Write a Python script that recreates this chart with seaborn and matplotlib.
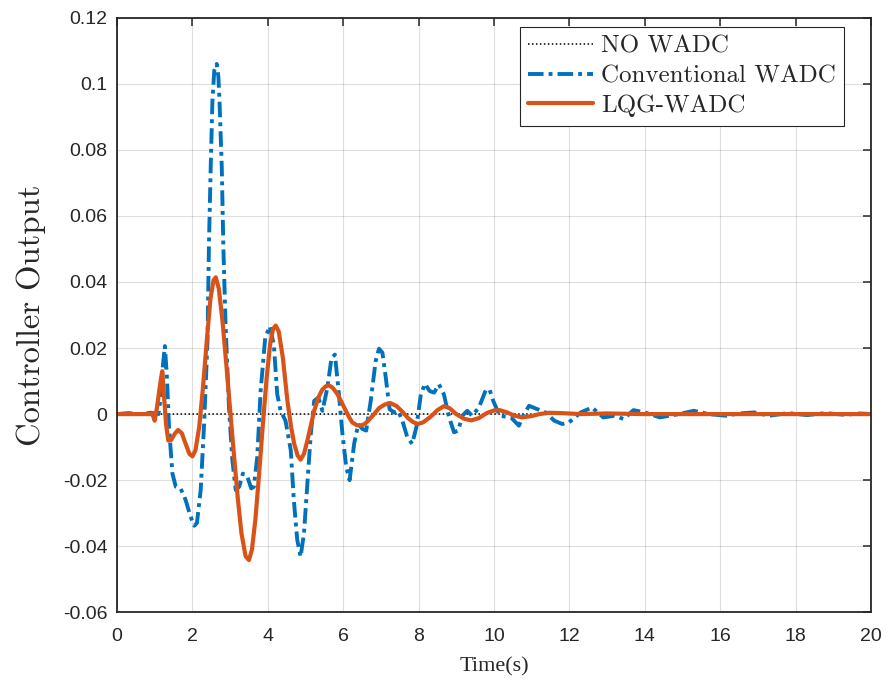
import matplotlib
matplotlib.use("Agg")
import matplotlib.pyplot as plt
import seaborn as sns
import numpy as np

# ---------------- data ----------------
t_none = [0.0, 20.0]
v_none = [0.0, 0.0]

t_conv = [0.0, 0.3, 0.6, 0.9, 1.1, 1.17, 1.22, 1.27, 1.32, 1.38, 1.47, 1.56, 1.69,
          1.82, 1.95, 2.05, 2.12, 2.22, 2.31, 2.40, 2.44, 2.485, 2.53, 2.58, 2.645,
          2.69, 2.72, 2.78, 2.82, 2.88, 2.97, 3.06, 3.15, 3.24, 3.34, 3.46, 3.56,
          3.63, 3.72, 3.81, 3.93, 4.05, 4.16, 4.25, 4.34, 4.47, 4.61, 4.69, 4.78,
          4.87, 4.96, 5.05, 5.14, 5.23, 5.34, 5.45, 5.58, 5.69, 5.78, 5.87, 5.98,
          6.08, 6.17, 6.29, 6.40, 6.51, 6.61, 6.73, 6.86, 6.95, 7.04, 7.13, 7.23,
          7.35, 7.46, 7.57, 7.70, 7.83, 7.94, 8.06, 8.17, 8.29, 8.41, 8.54, 8.67,
          8.81, 8.94, 9.05, 9.16, 9.29, 9.42, 9.60, 9.78, 9.88, 9.98, 10.15, 10.45,
          10.66, 10.8, 10.93, 11.15, 11.37, 11.6, 11.81, 11.99, 12.3, 12.6, 12.9,
          13.2, 13.44, 13.7, 14.0, 14.4, 14.9, 15.3, 15.7, 16.15, 16.5, 16.9, 17.3,
          17.8, 18.3, 18.8, 19.3, 19.7, 20.0]
v_conv = [0.0, 0.0003, 0.0, 0.0004, 0.0, 0.006, 0.015, 0.0206, 0.012, -0.004, -0.018,
          -0.022, -0.0226, -0.026, -0.031, -0.0338, -0.033, -0.023, -0.003, 0.022,
          0.052, 0.0744, 0.0945, 0.104, 0.106, 0.102, 0.0945, 0.0744, 0.051, 0.027,
          0.002, -0.014, -0.023, -0.022, -0.018, -0.019, -0.0225, -0.022, -0.013,
          0.007, 0.023, 0.0266, 0.021, 0.006, 0.001, -0.002, -0.011, -0.026, -0.038,
          -0.0432, -0.036, -0.021, -0.006, 0.004, 0.005, 0.001, 0.008, 0.017, 0.018,
          0.008, -0.006, -0.016, -0.020, -0.009, -0.003, -0.0045, -0.005, 0.004,
          0.016, 0.0198, 0.0186, 0.011, 0.0015, 0.0005, 0.001, -0.002, -0.007,
          -0.009, -0.004, 0.006, 0.0092, 0.007, 0.0065, 0.009, 0.006, -0.001,
          -0.0055, -0.005, -0.0005, 0.001, -0.0005, 0.002, 0.0072, 0.0075, 0.004,
          -0.0005, -0.001, -0.0035, 0.0, 0.0025, 0.0015, 0.0005, -0.002, -0.003,
          -0.0025, 0.0005, 0.002, -0.001, -0.0005, -0.0015, 0.0012, 0.0005, -0.001,
          0.0, 0.001, 0.0, -0.0005, 0.0002, 0.0005, -0.0005, 0.0003, -0.0003, 0.0003,
          -0.0002, 0.0002, 0.0]

t_lqg = [0.0, 0.94, 1.0, 1.06, 1.12, 1.17, 1.20, 1.25, 1.30, 1.36, 1.44, 1.53, 1.62,
         1.72, 1.82, 1.92, 2.0, 2.08, 2.18, 2.28, 2.38, 2.48, 2.56, 2.62, 2.70, 2.80,
         2.90, 3.01, 3.10, 3.20, 3.30, 3.41, 3.50, 3.58, 3.67, 3.77, 3.87, 3.97, 4.06,
         4.14, 4.21, 4.29, 4.40, 4.52, 4.62, 4.70, 4.79, 4.87, 4.96, 5.05, 5.14, 5.23,
         5.34, 5.45, 5.55, 5.62, 5.72, 5.85, 5.96, 6.07, 6.16, 6.24, 6.35, 6.46, 6.57,
         6.68, 6.82, 6.95, 7.1, 7.26, 7.42, 7.57, 7.72, 7.85, 7.98, 8.12, 8.32, 8.50,
         8.67, 8.82, 9.0, 9.2, 9.40, 9.6, 9.82, 10.0, 10.15, 10.35, 10.55, 10.75, 11.0,
         11.2, 11.46, 11.8, 12.3, 13.0, 14.0, 20.0]
v_lqg = [0.0, 0.0, -0.002, 0.002, 0.007, 0.011, 0.013, 0.005, -0.003, -0.008, -0.0078,
         -0.006, -0.0048, -0.0058, -0.009, -0.012, -0.0128, -0.011, -0.004, 0.008,
         0.022, 0.035, 0.0405, 0.0414, 0.038, 0.028, 0.015, 0.0, -0.012, -0.025,
         -0.036, -0.043, -0.0442, -0.041, -0.032, -0.018, -0.003, 0.011, 0.021,
         0.0258, 0.0268, 0.025, 0.017, 0.004, -0.004, -0.009, -0.0125, -0.0138,
         -0.012, -0.008, -0.0035, 0.001, 0.005, 0.0075, 0.0085, 0.0087, 0.008, 0.006,
         0.0035, 0.001, -0.001, -0.0025, -0.0033, -0.0035, -0.003, -0.0018, 0.0,
         0.0018, 0.0029, 0.0033, 0.0024, 0.0007, -0.0012, -0.0024, -0.003, -0.0025,
         -0.0008, 0.0012, 0.0024, 0.0018, 0.0, -0.0014, -0.0019, -0.0012, 0.0004,
         0.0011, 0.0012, 0.0005, -0.0005, -0.001, -0.0006, 0.0, 0.0004, 0.0003, 0.0,
         0.0002, 0.0, 0.0]

series_labels = ["NO WADC", "Conventional WADC", "LQG-WADC"]
xticks = [0, 2, 4, 6, 8, 10, 12, 14, 16, 18, 20]
yticks = [-0.06, -0.04, -0.02, 0, 0.02, 0.04, 0.06, 0.08, 0.1, 0.12]
ytick_labels = ["-0.06", "-0.04", "-0.02", "0", "0.02", "0.04", "0.06", "0.08", "0.1", "0.12"]

# ---------------- plotting ----------------
sns.set_style("white")
plt.rcParams["font.family"] = ["Liberation Sans", "DejaVu Sans"]

fig = plt.figure(figsize=(8.88, 6.85), dpi=100)
ax = fig.add_axes([117 / 888, 1 - 612.3 / 685, (871 - 117) / 888, (612.3 - 17.7) / 685])

sns.lineplot(x=t_none, y=v_none, ax=ax, color="black", linewidth=1.1,
             linestyle=(0, (1, 1.6)), label=series_labels[0], sort=False, estimator=None)
sns.lineplot(x=t_conv, y=v_conv, ax=ax, color="#0072BD", linewidth=2.8,
             linestyle=(0, (4.0, 1.3, 1.0, 1.3)), label=series_labels[1], sort=False,
             estimator=None)
sns.lineplot(x=t_lqg, y=v_lqg, ax=ax, color="#D95319", linewidth=3.0,
             linestyle="-", label=series_labels[2], sort=False, estimator=None)
for ln in ax.lines:
    ln.set_solid_joinstyle("round")
    ln.set_dash_joinstyle("round")

ax.set_xlim(0, 20)
ax.set_ylim(-0.06, 0.12)
ax.set_xticks(xticks)
ax.set_xticklabels([str(x) for x in xticks])
ax.set_yticks(yticks)
ax.set_yticklabels(ytick_labels)

ax.grid(True, color=(0.15, 0.15, 0.15), alpha=0.15, linewidth=0.8)
ax.set_axisbelow(True)
for sp in ax.spines.values():
    sp.set_visible(True)
    sp.set_color("#262626")
    sp.set_linewidth(1.3)

ax.tick_params(axis="both", which="both", direction="in", length=6, width=1.1,
               top=True, right=True, labelsize=14, colors="#262626")
ax.tick_params(axis="x", pad=11)
ax.tick_params(axis="y", pad=7)
for lab in ax.get_xticklabels() + ax.get_yticklabels():
    lab.set_color("#262626")

ax.set_xlabel("Time(s)", fontsize=16, family=["Liberation Serif", "DejaVu Serif"],
              labelpad=9, color="#262626")
ax.set_ylabel("Controller Output", fontsize=23.5, family=["cmr10", "DejaVu Serif"],
              labelpad=12, color="#262626")

leg = ax.legend(loc="upper right", bbox_to_anchor=(844.3 / 888, 1 - 26.7 / 685),
                bbox_transform=fig.transFigure, prop={"family": "cmr10", "size": 18},
                frameon=True, fancybox=False, framealpha=1, edgecolor="#262626",
                handlelength=2.6, handletextpad=0.3, labelspacing=0.28,
                borderpad=0.35, borderaxespad=0)
leg.get_frame().set_linewidth(0.8)

fig.savefig("out.png", dpi=100)
